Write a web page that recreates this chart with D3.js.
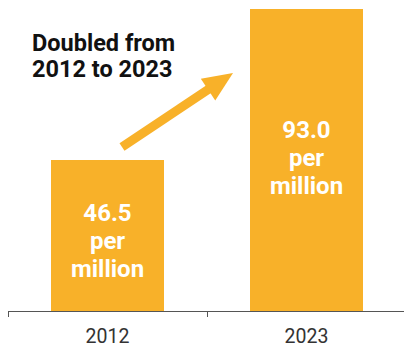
<!DOCTYPE html>
<html><head><meta charset="utf-8">
<script src="https://cdn.jsdelivr.net/npm/d3@7"></script>
<style>html,body{margin:0;padding:0;background:#fff;}svg{display:block;font-family:Roboto,"Noto Sans",sans-serif;}</style>
</head><body>
<svg id="c" width="404" height="347"></svg>
<script>
const categories = ["2012", "2023"];
const values = [46.5, 93.0];
const valueLabels = ["46.5", "93.0"];
const unitLines = ["per", "million"];
const annotation = ["Doubled from", "2012 to 2023"];

const svg = d3.select("#c");
const color = "#F8B129";
const xb = d3.scaleBand().domain(categories).range([8, 406]);
const y = d3.scaleLinear().domain([0, 93]).range([311, 9]);
const barW = 113;

svg.selectAll("rect.bar").data(values).join("rect")
  .attr("class","bar")
  .attr("x",(d,i)=>xb(categories[i]) + xb.bandwidth()/2 - barW/2)
  .attr("width",barW)
  .attr("y",d=>y(d)).attr("height",d=>y(0)-y(d))
  .attr("fill",color);

// axis
const ax = svg.append("g");
ax.append("line").attr("x1",8).attr("x2",404).attr("y1",311.5).attr("y2",311.5).attr("stroke","#555").attr("stroke-width",1);
categories.forEach(c=>{
  ax.append("line").attr("x1",xb(c)+0.5).attr("x2",xb(c)+0.5).attr("y1",311).attr("y2",317).attr("stroke","#555");
  ax.append("text").attr("x",xb(c)+xb.bandwidth()/2).attr("y",343).attr("text-anchor","middle")
    .attr("font-size",19.5).attr("fill","#333").text(c);
});

// bar labels (layout: first-line offset from bar top)
const labelOffset = [61, 129];
values.forEach((v,i)=>{
  const cx = xb(categories[i]) + xb.bandwidth()/2;
  const lines = [valueLabels[i]].concat(unitLines);
  const top = y(v);
  lines.forEach((t,j)=>{
    svg.append("text").attr("x",cx).attr("y",top + labelOffset[i] + j*27.8)
      .attr("text-anchor","middle").attr("font-size",24).attr("font-weight",700)
      .attr("fill","#fff").text(t);
  });
});

// annotation
annotation.forEach((t,j)=>{
  svg.append("text").attr("x",32).attr("y",51+j*26).attr("font-size",23.5).attr("font-weight",700)
    .attr("fill","#111").text(t);
});

// arrow
const x0=122,y0=147,x1=233,y1=73;
const ang=Math.atan2(y1-y0,x1-x0);
const headLen=30, headW=13, shaftW=4.5;
const bx=x1-headLen*Math.cos(ang), by=y1-headLen*Math.sin(ang);
const nx=-Math.sin(ang), ny=Math.cos(ang);
svg.append("line").attr("x1",x0).attr("y1",y0).attr("x2",bx+2*Math.cos(ang)).attr("y2",by+2*Math.sin(ang))
  .attr("stroke",color).attr("stroke-width",shaftW*2);
svg.append("path").attr("d",`M${x1},${y1}L${bx+nx*headW},${by+ny*headW}L${bx-nx*headW},${by-ny*headW}Z`).attr("fill",color);
</script>
</body></html>
